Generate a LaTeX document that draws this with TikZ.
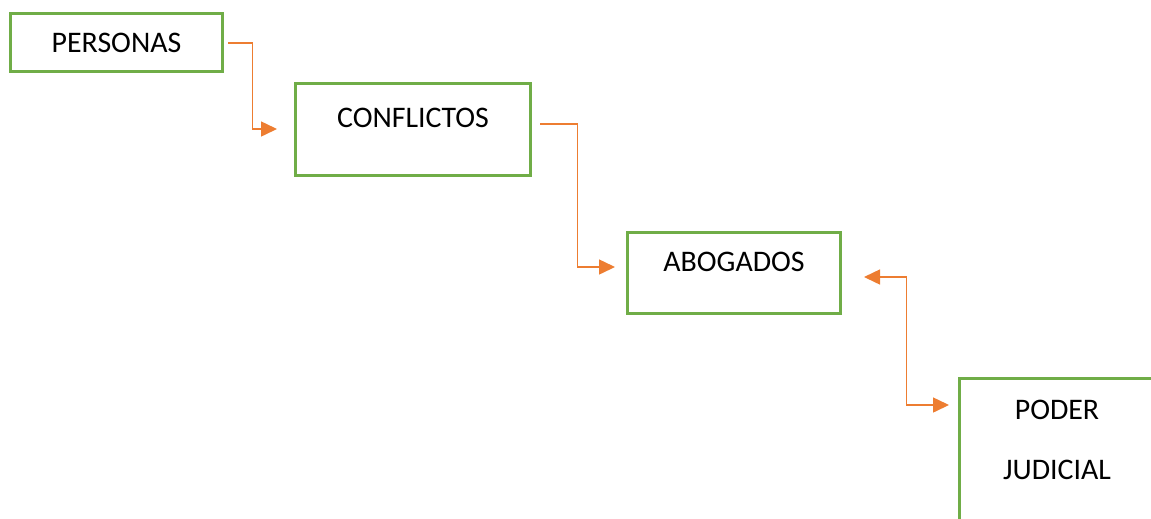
\documentclass[tikz,border=0pt]{standalone}
\usepackage{fontspec}
\setmainfont{Carlito}
\usetikzlibrary{arrows.meta,calc}
\definecolor{verde}{HTML}{70AD47}
\definecolor{naranja}{HTML}{ED7D31}
\tikzset{
  punta/.tip={Triangle[length=0.32cm,width=0.3cm]},
  caja/.style={draw=verde, line width=1.7pt, inner sep=0pt},
  texto/.style={font=\fontsize{17}{20}\selectfont, inner sep=0pt},
  flecha/.style={draw=naranja, line width=0.85pt},
}

\begin{document}
\begin{tikzpicture}[x=0.02cm,y=-0.02cm]
\useasboundingbox (0,0) rectangle (1151,518);
\clip (0,0) rectangle (1151,518);

% cajas
\node[caja, texto, minimum width=4.24cm, minimum height=1.16cm] (personas) at (116.5,42.5) {PERSONAS};
\node[caja, minimum width=4.7cm, minimum height=1.84cm] (conflictos) at (413,129.5) {};
\node[caja, minimum width=4.26cm, minimum height=1.62cm] (abogados) at (734,273) {};
\node[caja, minimum width=6cm, minimum height=4cm] (poder) at (1109.5,478.5) {};

% textos
\node[texto] (tconflictos) at (413,118) {CONFLICTOS};
\node[texto] (tabogados) at (734,262) {ABOGADOS};
\node[texto] (tpoder) at (1057,410) {PODER};
\node[texto] (tjudicial) at (1057,470) {JUDICIAL};

% flechas
\coordinate (a1) at (228,43);
\coordinate (b1) at (277,129);
\coordinate (a2) at (540,124);
\coordinate (b2) at (615,267);
\coordinate (a3) at (864,277);
\coordinate (b3) at (949,405);
\draw[flecha, -punta] (a1) -| ($(a1)!.5!(b1)$) |- (b1);
\draw[flecha, -punta] (a2) -| ($(a2)!.5!(b2)$) |- (b2);
\draw[flecha, punta-punta] (a3) -| ($(a3)!.5!(b3)$) |- (b3);
\end{tikzpicture}
\end{document}
